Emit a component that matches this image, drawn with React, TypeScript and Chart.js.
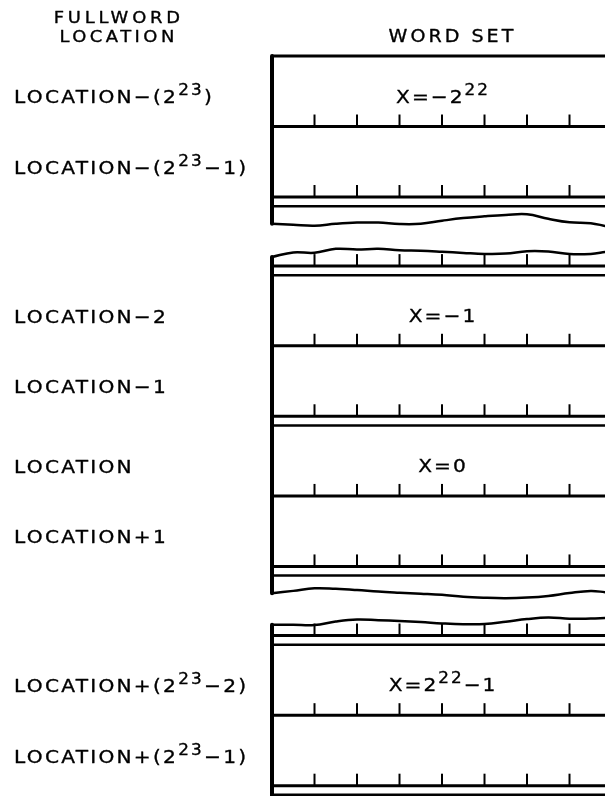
import { useEffect, useRef } from "react";
import { Chart, registerables } from "chart.js";

Chart.register(...registerables);

// ---------- data ----------
const headerLeft = ["FULLWORD", "LOCATION"];
const headerRight = "WORD SET";
const fullwordLabels = [
  "LOCATION−(2^{23})",
  "LOCATION−(2^{23}−1)",
  "LOCATION−2",
  "LOCATION−1",
  "LOCATION",
  "LOCATION+1",
  "LOCATION+(2^{23}−2)",
  "LOCATION+(2^{23}−1)",
];
const wordSetLabels = ["X=−2^{22}", "X=−1", "X=0", "X=2^{22}−1"];
// word sets (each = two fullwords) shown in each unbroken piece of the drawing
const segmentWordSets = [1, 2, 1];
// byte boundaries inside a word set (in bytes)
const byteTicks = [1, 2, 3, 4, 5, 6, 7];
// break-line (torn edge) profiles, sampled at waveX bytes, offsets in fullword rows
const waveX = [0, 0.5, 1, 1.5, 2, 2.5, 3, 3.5, 4, 4.5, 5, 5.5, 6, 6.5, 7, 7.5, 7.85];
const tearBelow1 = [0, 0.014, 0.027, 0, -0.017, -0.018, 0.003, 0, -0.043, -0.081, -0.106, -0.126, -0.136, -0.071, -0.021, -0.009, 0.033];
const tearAbove2 = [0.071, 0.006, 0.011, -0.045, -0.035, -0.045, -0.024, -0.017, -0.003, 0.013, 0.027, 0.023, -0.01, -0.006, 0.03, 0.028, 0];
const tearBelow2 = [0, -0.033, -0.07, -0.062, -0.045, -0.023, -0.007, 0.007, 0.023, 0.05, 0.064, 0.07, 0.061, 0.038, -0.003, -0.031, -0.014];
const tearAbove3 = [0.047, 0.047, 0.052, 0.001, -0.028, -0.018, -0.006, 0.009, 0.028, 0.04, 0.038, 0.006, -0.033, -0.055, -0.038, -0.04, -0.047];

// ---------- layout / style constants ----------
const INK = "#000";
const FONT = '"DejaVu Sans", sans-serif';
const STRETCH = 1.12;
const ROW = 1;
const STRIP = 0.13;
const STUB_BELOW = 0.25;
const STUB_ABOVE = 0.2;
const GAP = 0.4;
const TICK = 0.17;
const X_END = 8.2;

type HLine = { y: number; width: number; ticks: boolean };

function buildLayout() {
  const lines: HLine[] = [];
  const edges: { y0: number; y1: number }[] = [];
  const waves: { y: number; offsets: number[] }[] = [];
  const rowCenters: number[] = [];
  const setCenters: number[] = [];
  const above: (number[] | null)[] = [null, tearAbove2, tearAbove3];
  const below: (number[] | null)[] = [tearBelow1, tearBelow2, null];
  let y = 0;
  segmentWordSets.forEach((n, s) => {
    let top: number;
    const up = above[s];
    if (!up) {
      lines.push({ y, width: 3, ticks: false });
      top = y;
    } else {
      waves.push({ y, offsets: up });
      top = y + up[0];
      y += STUB_ABOVE;
      lines.push({ y, width: 3, ticks: true });
      y += STRIP;
      lines.push({ y, width: 2.5, ticks: false });
    }
    for (let w = 0; w < n; w++) {
      for (let r = 0; r < 2; r++) {
        rowCenters.push(y + ROW / 2);
        if (r === 0) setCenters.push(y + ROW / 2);
        y += ROW;
        lines.push({ y, width: 3, ticks: true });
      }
      y += STRIP;
      lines.push({ y, width: 2.5, ticks: false });
    }
    const dn = below[s];
    let bottom: number;
    if (dn) {
      y += STUB_BELOW;
      waves.push({ y, offsets: dn });
      bottom = y + dn[0];
      y += GAP;
    } else {
      bottom = y + 0.05;
    }
    edges.push({ y0: top, y1: bottom });
  });
  return { lines, edges, waves, rowCenters, setCenters };
}

function splitRich(s: string) {
  const out: { t: string; sup: boolean }[] = [];
  const re = /\^\{([^}]*)\}/g;
  let last = 0;
  let m: RegExpExecArray | null;
  while ((m = re.exec(s))) {
    if (m.index > last) out.push({ t: s.slice(last, m.index), sup: false });
    out.push({ t: m[1], sup: true });
    last = re.lastIndex;
  }
  if (last < s.length) out.push({ t: s.slice(last), sup: false });
  return out;
}

function drawRich(
  ctx: CanvasRenderingContext2D,
  s: string,
  px: number,
  py: number,
  center: boolean,
  size: number,
  spacing: number
) {
  const supSize = Math.round(size * 0.83);
  const parts = splitRich(s).map((p) => {
    const sz = p.sup ? supSize : size;
    ctx.font = `${sz}px ${FONT}`;
    (ctx as any).letterSpacing = `${spacing}px`;
    return { ...p, sz, w: ctx.measureText(p.t).width };
  });
  const total = (parts.reduce((a, p) => a + p.w, 0) - spacing) * STRETCH;
  const start = center ? px - total / 2 : px;
  const base = py + size * 0.365;
  ctx.save();
  ctx.translate(start, base);
  ctx.scale(STRETCH, 1);
  ctx.textAlign = "left";
  ctx.textBaseline = "alphabetic";
  ctx.fillStyle = INK;
  ctx.strokeStyle = INK;
  ctx.lineWidth = 0.35;
  ctx.lineJoin = "round";
  let x = 0;
  parts.forEach((p) => {
    ctx.font = `${p.sz}px ${FONT}`;
    (ctx as any).letterSpacing = `${spacing}px`;
    const yy = p.sup ? -size * 0.45 : 0;
    ctx.fillText(p.t, x, yy);
    ctx.strokeText(p.t, x, yy);
    x += p.w;
  });
  ctx.restore();
}

export default function App() {
  const ref = useRef<HTMLCanvasElement>(null);

  useEffect(() => {
    const canvas = ref.current;
    if (!canvas) return;
    const L = buildLayout();
    const datasets: any[] = [];
    const add = (pts: { x: number; y: number }[], width: number, extra: any = {}) =>
      datasets.push({
        data: pts,
        showLine: true,
        borderColor: INK,
        backgroundColor: INK,
        borderWidth: width,
        pointRadius: 0,
        pointHoverRadius: 0,
        fill: false,
        tension: 0,
        ...extra,
      });

    L.lines.forEach((l) => {
      add([{ x: 0, y: l.y }, { x: X_END, y: l.y }], l.width);
      if (l.ticks)
        byteTicks.forEach((b) => add([{ x: b, y: l.y }, { x: b, y: l.y - TICK }], 2));
    });
    L.edges.forEach((e) =>
      add([{ x: 0, y: e.y0 }, { x: 0, y: e.y1 }], 4, { borderCapStyle: "round" })
    );
    L.waves.forEach((w) =>
      add(
        waveX.map((x, i) => ({ x, y: w.y + w.offsets[i] })),
        2.5,
        { tension: 0.4, borderCapStyle: "round", borderJoinStyle: "round" }
      )
    );

    const textPlugin = {
      id: "diagramText",
      afterDatasetsDraw(chart: any) {
        const { ctx } = chart;
        const xs = chart.scales.x;
        const ys = chart.scales.y;
        ctx.save();
        // headers
        drawRich(ctx, headerLeft[0], xs.getPixelForValue(-3.65), ys.getPixelForValue(-0.546), true, 16, 3.4);
        drawRich(ctx, headerLeft[1], xs.getPixelForValue(-3.65), ys.getPixelForValue(-0.277), true, 16, 3.1);
        drawRich(ctx, headerRight, xs.getPixelForValue(4.21), ys.getPixelForValue(-0.29), true, 17, 2.7);
        // fullword labels
        fullwordLabels.forEach((t, i) => {
          drawRich(ctx, t, xs.getPixelForValue(-6.07), ys.getPixelForValue(L.rowCenters[i] + 0.08), false, 18, 2.0);
        });
        // word set labels
        wordSetLabels.forEach((t, i) => {
          drawRich(ctx, t, xs.getPixelForValue(4), ys.getPixelForValue(L.setCenters[i] + 0.07), true, 18, 1.8);
        });
        ctx.restore();
      },
    };

    const chart = new Chart(canvas, {
      type: "scatter",
      data: { datasets },
      options: {
        animation: false,
        responsive: false,
        events: [],
        layout: { padding: 0 },
        plugins: { legend: { display: false }, tooltip: { enabled: false }, title: { display: false } },
        scales: {
          x: { type: "linear", display: false, min: -6.4, max: 7.835, bounds: "data" },
          y: { type: "linear", display: false, reverse: true, min: -0.7943, max: 10.4965, bounds: "data" },
        },
      },
      plugins: [textPlugin],
    } as any);
    return () => chart.destroy();
  }, []);

  return (
    <div style={{ position: "absolute", left: 0, top: 0, width: 605, height: 796, background: "#fff" }}>
      <canvas ref={ref} width={605} height={796} style={{ display: "block" }} />
    </div>
  );
}
